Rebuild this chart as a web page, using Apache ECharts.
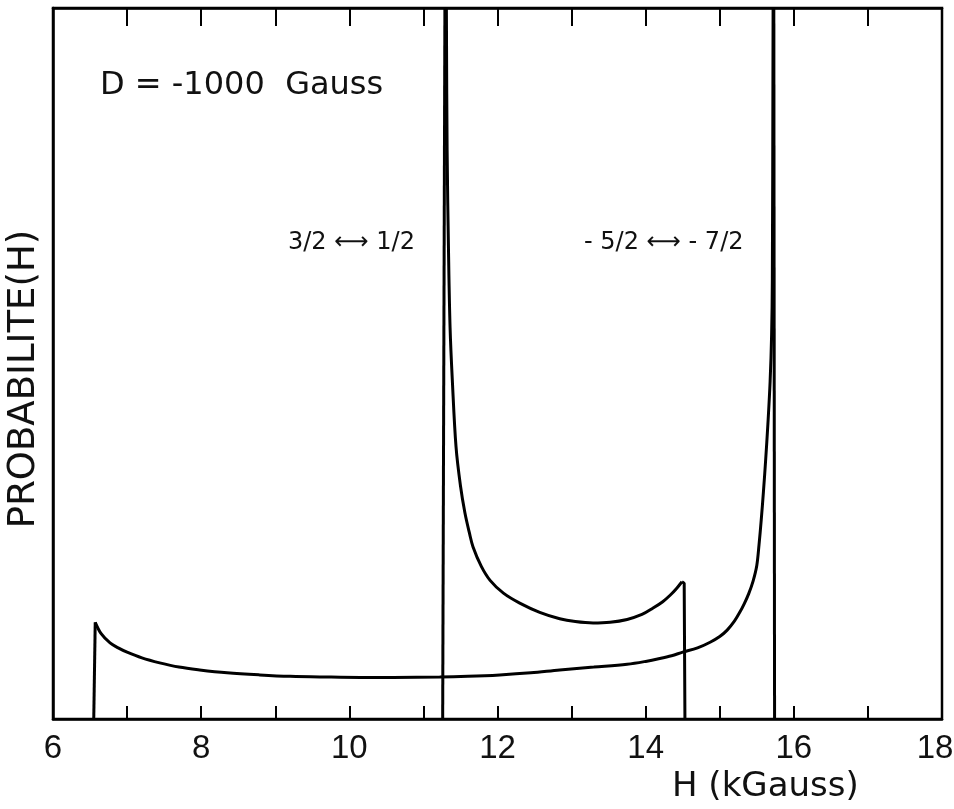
<!DOCTYPE html>
<html>
<head>
<meta charset="utf-8">
<script src="https://cdn.jsdelivr.net/npm/echarts@6/dist/echarts.min.js"></script>
<style>html,body{margin:0;padding:0;background:#fff}#c{width:954px;height:809px}</style>
</head>
<body>
<div id="c"></div>
<script>
// x tick labels (kGauss)
const xTickLabels = [6, 8, 10, 12, 14, 16, 18];
// Curve for the -5/2 <-> -7/2 transition: [H (kGauss), probability (arb. units, 0..100)]
const curveA_edgeL_H = [6.55, 6.57];
const curveA_edgeL_P = [0, 13.6];
const curveA_H = [6.57, 6.65, 6.77, 6.88, 7.00, 7.20, 7.44, 7.70, 7.98, 8.35, 8.79, 9.20, 9.70, 10.15, 10.59, 11.22, 11.60, 12.03, 12.45, 12.84, 13.30, 13.75, 14.00, 14.19, 14.35, 14.50, 14.70, 14.87, 15.00, 15.10, 15.20, 15.27, 15.33, 15.39, 15.45, 15.50, 15.53, 15.56, 15.59, 15.62, 15.65, 15.68, 15.70, 15.71, 15.72];
const curveA_P = [13.6, 12.0, 10.7, 10.0, 9.4, 8.6, 7.9, 7.3, 6.9, 6.5, 6.2, 6.0, 5.9, 5.85, 5.85, 5.9, 6.0, 6.2, 6.5, 6.9, 7.3, 7.7, 8.1, 8.5, 8.9, 9.4, 10.0, 10.8, 11.6, 12.5, 13.8, 15.0, 16.2, 17.6, 19.4, 21.6, 24.5, 28.0, 32.0, 36.5, 41.5, 47.5, 54.0, 62.0, 100];
const curveA_edgeR_H = [15.73, 15.74];
const curveA_edgeR_P = [100, 0];
// Curve for the 3/2 <-> 1/2 transition
const curveB_edgeL_H = [11.26, 11.29];
const curveB_edgeL_P = [0, 100];
const curveB_H = [11.31, 11.32, 11.34, 11.36, 11.39, 11.44, 11.50, 11.56, 11.62, 11.67, 11.78, 11.90, 12.08, 12.30, 12.57, 12.84, 13.05, 13.29, 13.52, 13.75, 13.95, 14.10, 14.23, 14.33, 14.42, 14.49];
const curveB_P = [100, 80, 65, 55, 47.7, 38.3, 32.8, 29.0, 26.2, 24.2, 21.5, 19.5, 17.7, 16.3, 15.0, 14.1, 13.7, 13.5, 13.6, 14.0, 14.7, 15.6, 16.5, 17.4, 18.4, 19.3];
const curveB_edgeR_H = [14.49, 14.52, 14.53];
const curveB_edgeR_P = [19.3, 19.1, 0];

const FONT = 'DejaVu Sans';
const zip = (a, b) => a.map((v, i) => [v, b[i]]);
const LINE = {color: '#000', width: 3};

const chart = echarts.init(document.getElementById('c'), null, {renderer: 'canvas'});
const tickAxis = (pos, len, showLabel) => ({
  type: 'value', position: pos, min: 6, max: 18, interval: 1,
  axisLine: {show: true, onZero: false, lineStyle: {color: '#000', width: 2.5}},
  axisTick: {show: true, inside: true, length: len, lineStyle: {color: '#000', width: 2}},
  splitLine: {show: false},
  axisLabel: {
    show: showLabel, fontFamily: 'Liberation Sans', fontSize: 33, color: '#111', margin: 13,
    formatter: v => xTickLabels.includes(v) ? (v === 18 ? '{last|' + v + '}' : String(v)) : '',
    rich: {last: {fontFamily: 'Liberation Sans', fontSize: 33, color: '#111', padding: [0, 14, 0, 0]}}
  }
});
const seg = (h, p, smooth) => ({
  type: 'line', data: zip(h, p), showSymbol: false, smooth: smooth ? 0.35 : false,
  lineStyle: LINE
});
chart.setOption({
  animation: false,
  backgroundColor: '#fff',
  grid: {left: 53, right: 12, top: 8, bottom: 90, outerBoundsMode: 'none', containLabel: false,
         show: true, borderColor: '#000', borderWidth: 2.5},
  xAxis: [tickAxis('bottom', 13, true), tickAxis('top', 18, false)],
  yAxis: [{
    type: 'value', min: 0, max: 100,
    axisLine: {show: true, lineStyle: {color: '#000', width: 2.5}},
    axisTick: {show: false}, axisLabel: {show: false}, splitLine: {show: false}
  }],
  series: [
    seg(curveA_edgeL_H, curveA_edgeL_P, false),
    seg(curveA_H, curveA_P, true),
    seg(curveA_edgeR_H, curveA_edgeR_P, false),
    seg(curveB_edgeL_H, curveB_edgeL_P, false),
    seg(curveB_H, curveB_P, true),
    seg(curveB_edgeR_H, curveB_edgeR_P, false)
  ],
  graphic: [
    {type: 'text', left: 100, top: 70, style: {text: 'D = -1000  Gauss', font: '32px "' + FONT + '"', fill: '#111'}},
    {type: 'text', left: 288, top: 231, style: {text: '3/2 ⟷ 1/2', font: '24px "' + FONT + '"', fill: '#111'}},
    {type: 'text', left: 584, top: 231, style: {text: '- 5/2 ⟷ - 7/2', font: '24px "' + FONT + '"', fill: '#111'}},
    {type: 'text', left: 672, top: 770, style: {text: 'H (kGauss)', font: '34px "' + FONT + '"', fill: '#111'}},
    {type: 'text', x: 24, y: 379, rotation: Math.PI / 2,
     style: {text: 'PROBABILITE(H)', font: '37px "' + FONT + '"', fill: '#111', align: 'center', verticalAlign: 'middle'}}
  ]
});
</script>
</body>
</html>
